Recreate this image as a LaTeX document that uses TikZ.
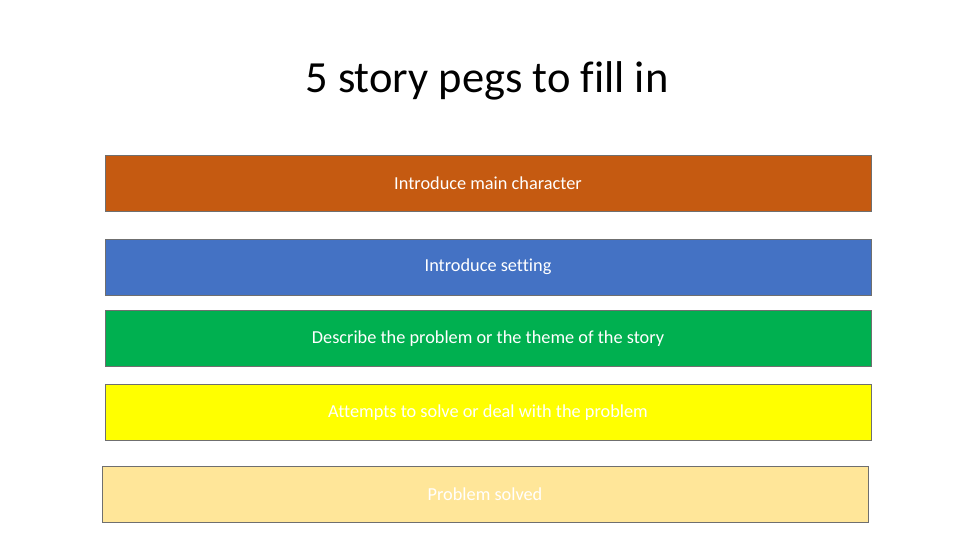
\documentclass[tikz,border=0pt]{standalone}
\usepackage{fontspec}
\setmainfont{Carlito}[Ligatures=NoCommon]
\definecolor{pegorange}{HTML}{C55A11}
\definecolor{pegblue}{HTML}{4472C4}
\definecolor{peggreen}{HTML}{00B050}
\definecolor{pegyellow}{HTML}{FFFF00}
\definecolor{peglight}{HTML}{FFE699}
\definecolor{pegborder}{HTML}{6F6F6F}
\begin{document}
\begin{tikzpicture}[x=1pt, y=-1pt,
  peg/.style={draw=pegborder, line width=0.8pt, minimum width=766pt, minimum height=56pt,
    inner sep=0pt, text=white, font=\fontsize{18.3}{22}\selectfont}]
\useasboundingbox[fill=white] (0,0) rectangle (975,548);

\node[anchor=base, font=\fontsize{44.5}{52}\selectfont] (title) at (487,93) {5 story pegs to fill in};

\node[peg, fill=pegorange]  (character) at (488,183.5) {Introduce main character};
\node[peg, fill=pegblue]    (setting)   at (488,267)   {Introduce setting};
\node[peg, fill=peggreen]   (problem)   at (488,338.5) {Describe the problem or the theme of the story};
\node[peg, fill=pegyellow]  (attempts)  at (488,412.5) {Attempts to solve or deal with the problem};
\node[peg, fill=peglight]   (solved)    at (485,494)   {Problem solved};
\end{tikzpicture}
\end{document}
